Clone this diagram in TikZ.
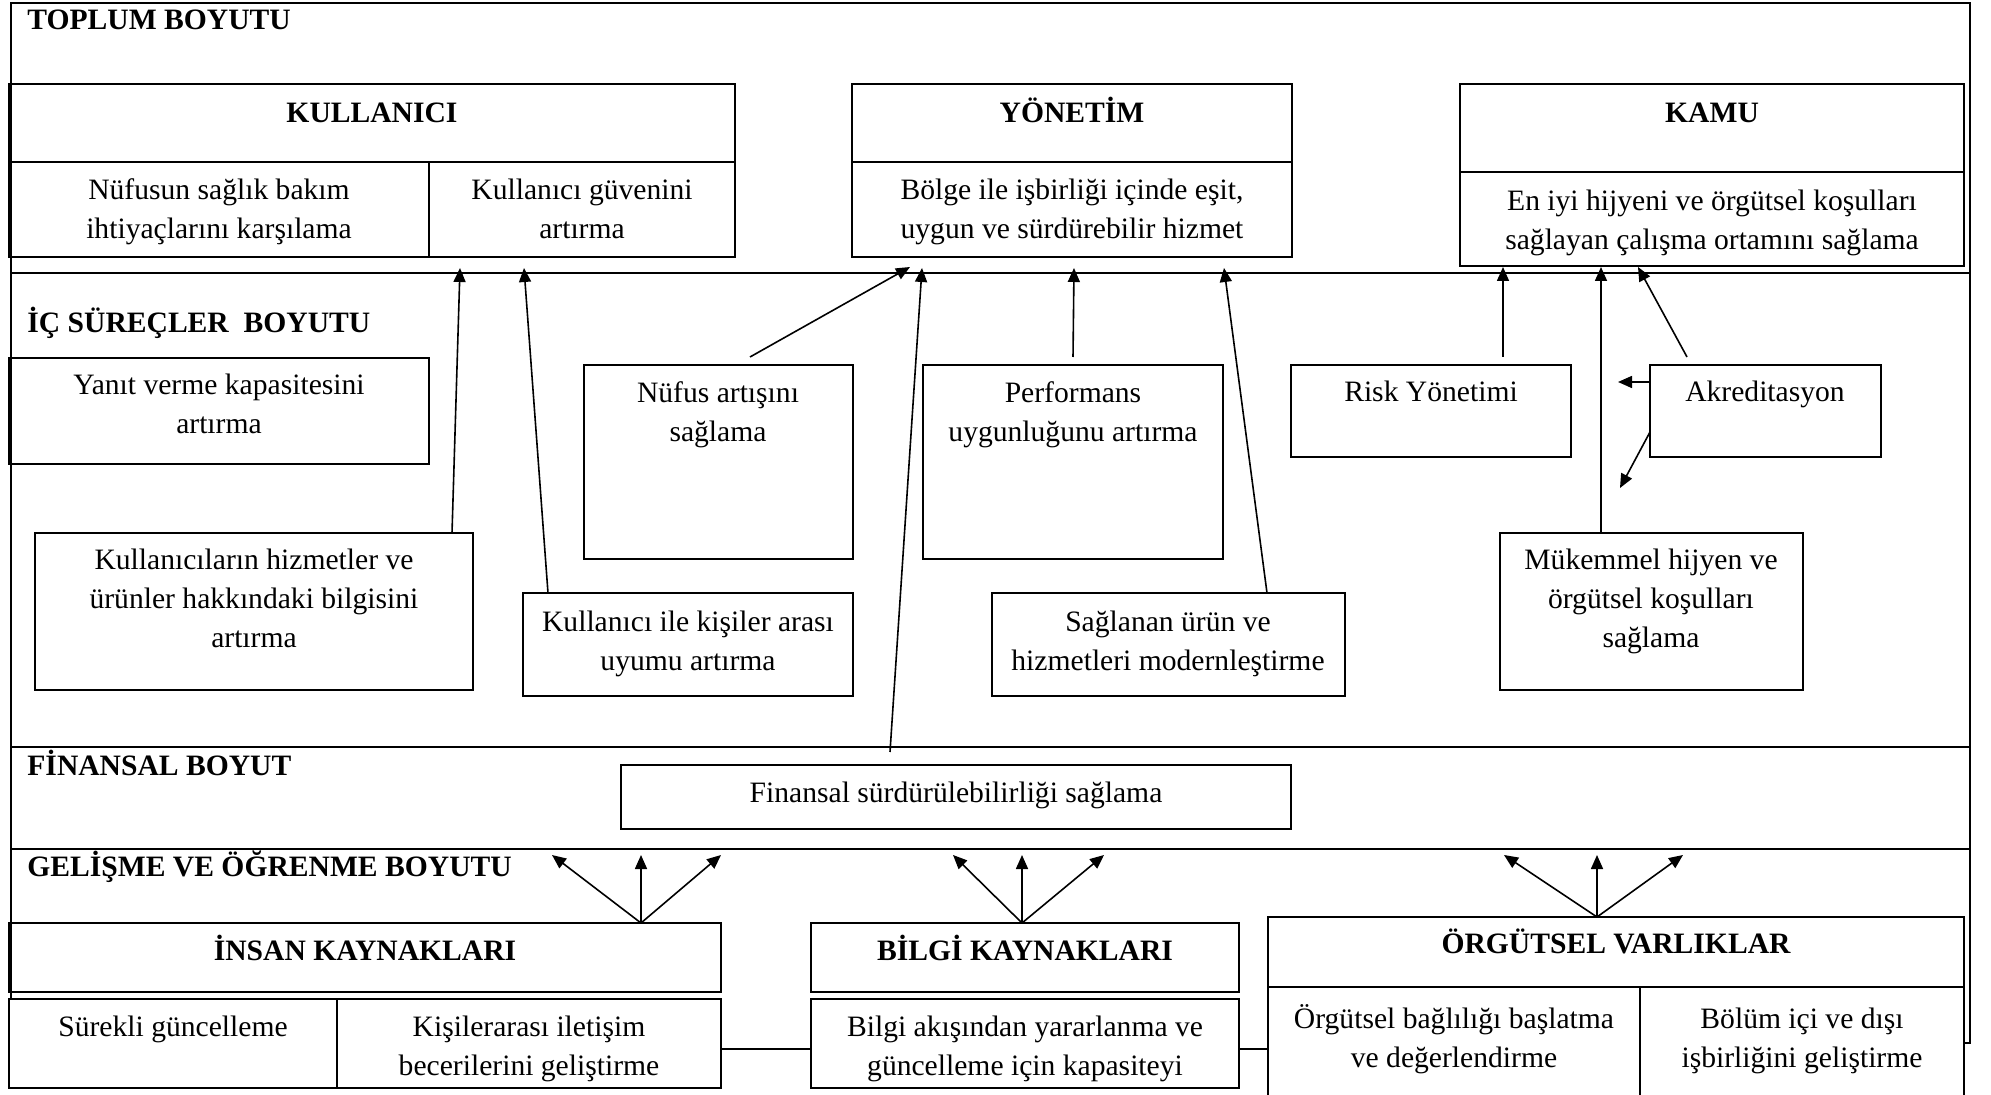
\documentclass[tikz,border=0pt]{standalone}
\usepackage{fontspec}
\setmainfont{Liberation Serif}
\usetikzlibrary{arrows.meta,fit}
% strut giving every text block the same top and bottom
\newcommand{\tstr}{\rule[-0.3em]{0pt}{1.2em}}

\begin{document}
\begin{tikzpicture}[x=0.5pt,y=-0.5pt,
  frame/.style={line width=1.25pt},
  cell/.style={draw, line width=0.9pt, inner sep=0pt, outer sep=0pt},
  txt/.style={font=\fontsize{14.8}{19.5}\selectfont, align=center, inner sep=0pt},
  head/.style={font=\fontsize{14.8}{19.5}\selectfont\bfseries, inner sep=0pt, anchor=base},
  band/.style={head, anchor=base west},
  link/.style={line width=0.8pt, -{Triangle[length=7pt,width=6pt]}},
  plain/.style={line width=0.9pt}
]
\useasboundingbox (0,0) rectangle (1991,1095);
\clip (0,0) rectangle (1991,1095);

% ---------- outer frame and band separators ----------
\draw[frame] (1964,1043) -- (1970,1043) -- (1970,3) -- (11,3) -- (11,999);
\draw[frame] (11,273) -- (1970,273);
\draw[frame] (11,747) -- (1970,747);
\draw[frame] (11,849) -- (1970,849);

% ---------- band titles ----------
\node[band] (bandA) at (27,30)  {TOPLUM BOYUTU};
\node[band] (bandB) at (27,333) {İÇ SÜREÇLER\hspace{0.5em}BOYUTU};
\node[band] (bandC) at (27,775) {FİNANSAL BOYUT};
\node[band] (bandD) at (27,876) {GELİŞME VE ÖĞRENME BOYUTU};

% ---------- TOPLUM BOYUTU ----------
\node[cell, fit={(9,84) (735,162)}]   (kulH) {};
\node[cell, fit={(9,162) (429,257)}]  (kulA) {};
\node[cell, fit={(429,162) (735,257)}] (kulB) {};
\node[head] (kulHT) at (372,123) {KULLANICI};
\node[txt]  (kulAT) at (219,210) {\tstr Nüfusun sağlık bakım\\ihtiyaçlarını karşılama\tstr};
\node[txt]  (kulBT) at (582,210) {\tstr Kullanıcı güvenini\\artırma\tstr};

\node[cell, fit={(852,84) (1292,162)}]  (yonH) {};
\node[cell, fit={(852,162) (1292,257)}] (yonA) {};
\node[head] (yonHT) at (1072,123) {YÖNETİM};
\node[txt]  (yonAT) at (1072,210) {\tstr Bölge ile işbirliği içinde eşit,\\uygun ve sürdürebilir hizmet\tstr};

\node[cell, fit={(1460,84) (1964,172)}]  (kamH) {};
\node[cell, fit={(1460,172) (1964,266)}] (kamA) {};
\node[head] (kamHT) at (1712,123) {KAMU};
\node[txt]  (kamAT) at (1712,221) {\tstr En iyi hijyeni ve örgütsel koşulları\\sağlayan çalışma ortamını sağlama\tstr};

% ---------- İÇ SÜREÇLER BOYUTU ----------
\node[cell, fit={(9,358) (429,464)}]     (yanit) {};
\node[txt] (yanitT) at (219,405) {\tstr Yanıt verme kapasitesini\\artırma\tstr};

\node[cell, fit={(35,533) (473,690)}]    (kbil) {};
\node[txt] (kbilT) at (254,600) {\tstr Kullanıcıların hizmetler ve\\ürünler hakkındaki bilgisini\\artırma\tstr};

\node[cell, fit={(523,593) (853,696)}]   (kuyum) {};
\node[txt] (kuyumT) at (688,642) {\tstr Kullanıcı ile kişiler arası\\uyumu artırma\tstr};

\node[cell, fit={(584,365) (853,559)}]   (nufus) {};
\node[txt] (nufusT) at (718,413) {\tstr Nüfus artışını\\sağlama\tstr};

\node[cell, fit={(923,365) (1223,559)}]  (perf) {};
\node[txt] (perfT) at (1073,413) {\tstr Performans\\uygunluğunu artırma\tstr};

\node[cell, fit={(992,593) (1345,696)}]  (sagl) {};
\node[txt] (saglT) at (1168,642) {\tstr Sağlanan ürün ve\\hizmetleri modernleştirme\tstr};

\node[cell, fit={(1291,365) (1571,457)}] (risk) {};
\node[txt] (riskT) at (1431,393) {\tstr Risk Yönetimi\tstr};

\node[cell, fit={(1650,365) (1881,457)}] (akr) {};
\node[txt] (akrT) at (1765,393) {\tstr Akreditasyon\tstr};

\node[cell, fit={(1500,533) (1803,690)}] (muk) {};
\node[txt] (mukT) at (1651,600) {\tstr Mükemmel hijyen ve\\örgütsel koşulları\\sağlama\tstr};

% ---------- FİNANSAL BOYUT ----------
\node[cell, fit={(621,765) (1291,829)}] (fin) {};
\node[txt] (finT) at (956,794) {\tstr Finansal sürdürülebilirliği sağlama\tstr};

% ---------- GELİŞME VE ÖĞRENME BOYUTU ----------
\node[cell, fit={(9,923) (721,992)}]    (insH) {};
\node[cell, fit={(9,999) (337,1088)}]   (insA) {};
\node[cell, fit={(337,999) (721,1088)}] (insB) {};
\node[head] (insHT) at (365,960) {İNSAN KAYNAKLARI};
\node[txt]  (insAT) at (173,1028) {\tstr Sürekli güncelleme\tstr};
\node[txt]  (insBT) at (529,1047) {\tstr Kişilerarası iletişim\\becerilerini geliştirme\tstr};

\node[cell, fit={(811,923) (1239,992)}]  (bilH) {};
\node[cell, fit={(811,999) (1239,1088)}] (bilA) {};
\node[head] (bilHT) at (1025,960) {BİLGİ KAYNAKLARI};
\node[txt]  (bilAT) at (1025,1047) {\tstr Bilgi akışından yararlanma ve\\güncelleme için kapasiteyi\tstr};

\node[cell, fit={(1268,917) (1964,987)}]  (orgH) {};
\node[cell, fit={(1268,987) (1640,1100)}] (orgA) {};
\node[cell, fit={(1640,987) (1964,1100)}] (orgB) {};
\node[head] (orgHT) at (1616,953) {ÖRGÜTSEL VARLIKLAR};
\node[txt]  (orgAT) at (1454,1039) {\tstr Örgütsel bağlılığı başlatma\\ve değerlendirme\tstr};
\node[txt]  (orgBT) at (1802,1039) {\tstr Bölüm içi ve dışı\\işbirliğini geliştirme\tstr};

% links between the resource boxes
\coordinate (lk) at (0,1049);
\draw[plain] (insB.east |- lk) -- (bilA.west |- lk);
\draw[plain] (bilA.east |- lk) -- (orgA.west |- lk);

% ---------- arrows into the upper dimension ----------
\coordinate (a1s) at (452,533);  \coordinate (a1e) at (460,268);
\coordinate (a2s) at (548,593);  \coordinate (a2e) at (524,268);
\coordinate (a3s) at (750,357);  \coordinate (a3e) at (910,267);
\coordinate (a4s) at (890,752);  \coordinate (a4e) at (922,268);
\coordinate (a5s) at (1073,357); \coordinate (a5e) at (1074,268);
\coordinate (a6s) at (1267,593); \coordinate (a6e) at (1224,268);
\coordinate (a7s) at (1503,357); \coordinate (a7e) at (1503,267);
\coordinate (a8s) at (1601,533); \coordinate (a8e) at (1601,267);
\coordinate (a9s) at (1687,357); \coordinate (a9e) at (1638,267);
\coordinate (a10s) at (1650,382); \coordinate (a10e) at (1618,382);
\coordinate (a11s) at (1650,432); \coordinate (a11e) at (1620,488);
\foreach \i in {1,...,11}{\draw[link] (a\i s) -- (a\i e);}

% ---------- fans from the resource boxes ----------
\coordinate (insO) at (641,923);
\coordinate (insL) at (552,855);  \coordinate (insM) at (641,855);  \coordinate (insR) at (721,855);
\coordinate (bilO) at (1022,923);
\coordinate (bilL) at (953,855);  \coordinate (bilM) at (1022,855); \coordinate (bilR) at (1104,855);
\coordinate (orgO) at (1597,917);
\coordinate (orgL) at (1504,855); \coordinate (orgM) at (1597,855); \coordinate (orgR) at (1683,855);
\foreach \f in {ins,bil,org}{
  \foreach \d in {L,M,R}{\draw[link] (\f O) -- (\f\d);}
}
\end{tikzpicture}
\end{document}
